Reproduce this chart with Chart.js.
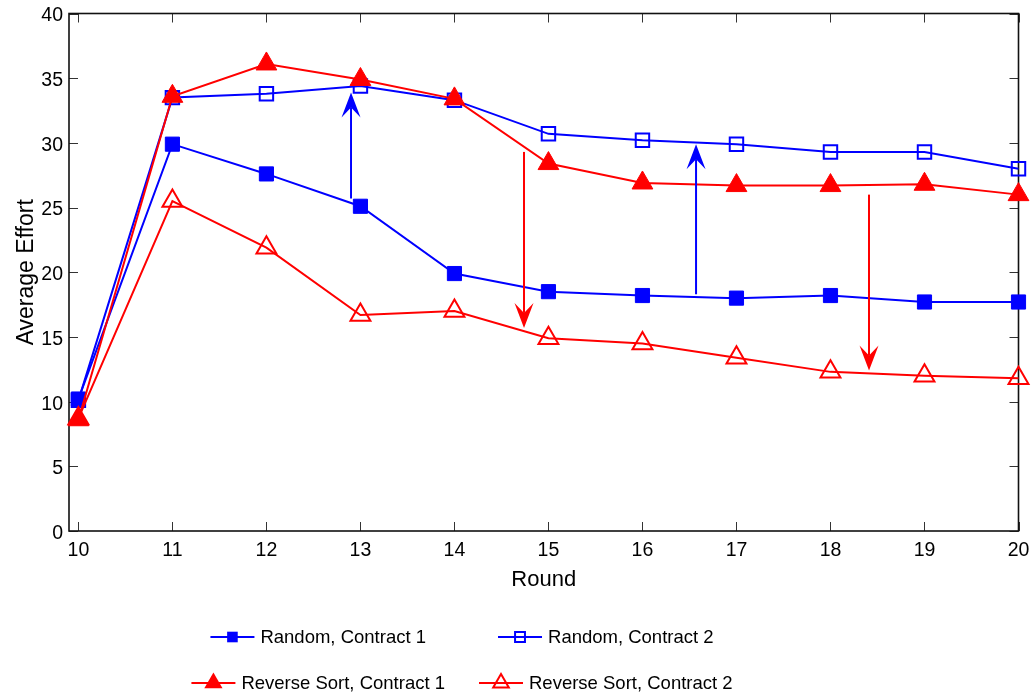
<!DOCTYPE html>
<html>
<head>
<meta charset="utf-8">
<script src="https://cdn.jsdelivr.net/npm/chart.js@4.4.1/dist/chart.umd.min.js"></script>
<style>
  html, body { margin: 0; padding: 0; background: #fff; }
</style>
</head>
<body>
<canvas id="effortChart" width="1032" height="694"></canvas>
<script>
// Average effort per round, four treatments
const rounds = [10, 11, 12, 13, 14, 15, 16, 17, 18, 19, 20];
const randomC1 = [10.2, 29.9, 27.6, 25.1, 19.9, 18.5, 18.2, 18.0, 18.2, 17.7, 17.7];
const randomC2 = [10.1, 33.5, 33.8, 34.4, 33.3, 30.7, 30.2, 29.9, 29.3, 29.3, 28.0];
const reverseC1 = [8.6, 33.6, 36.1, 34.9, 33.4, 28.4, 26.9, 26.7, 26.7, 26.8, 26.0];
const reverseC2 = [8.7, 25.5, 21.9, 16.7, 17.0, 14.9, 14.5, 13.4, 12.3, 12.0, 11.8];

const yTicks = [0, 5, 10, 15, 20, 25, 30, 35, 40];

// Annotation arrows (round position, start value, end value)
const arrowRound = [12.9, 14.74, 16.57, 18.41];
const arrowFrom = [25.7, 29.3, 18.3, 26.0];
const arrowTo = [33.9, 15.7, 29.9, 12.4];
const arrowColor = ['#0000ff', '#ff0000', '#0000ff', '#ff0000'];

const BLUE = '#0000ff';
const RED = '#ff0000';
const SANS = "'Liberation Sans', Arial, Helvetica, sans-serif";

function toPoints(values) {
    return rounds.map((r, i) => ({ x: r, y: values[i] }));
}

function series(label, values, color, style, filled, radius, order) {
    return {
        label: label,
        data: toPoints(values),
        borderColor: color,
        backgroundColor: color,
        borderWidth: 2,
        pointStyle: style,
        pointRadius: radius,
        pointHoverRadius: radius,
        pointBackgroundColor: filled ? color : 'rgba(255,255,255,0)',
        pointBorderColor: color,
        pointBorderWidth: filled ? 1 : 2,
        tension: 0,
        fill: false,
        clip: false,
        order: order
    };
}

// small marker painter for the legend
function drawMarker(ctx, style, filled, color, x, y, r) {
    ctx.save();
    ctx.beginPath();
    if (style === 'rect') {
        const s = r * Math.SQRT1_2;
        ctx.rect(x - s, y - s, 2 * s, 2 * s);
    } else {
        let a = 0;
        ctx.moveTo(x + Math.sin(a) * r, y - Math.cos(a) * r);
        a += 2 * Math.PI / 3;
        ctx.lineTo(x + Math.sin(a) * r, y - Math.cos(a) * r);
        a += 2 * Math.PI / 3;
        ctx.lineTo(x + Math.sin(a) * r, y - Math.cos(a) * r);
        ctx.closePath();
    }
    if (filled) {
        ctx.fillStyle = color;
        ctx.fill();
    } else {
        ctx.strokeStyle = color;
        ctx.lineWidth = 2;
        ctx.stroke();
    }
    ctx.restore();
}

// Box frame with inward ticks on all four sides
const framePlugin = {
    id: 'frame',
    beforeDatasetsDraw(chart) {
        const { ctx, chartArea: a, scales: { x, y } } = chart;
        ctx.save();
        ctx.strokeStyle = '#333';
        ctx.lineWidth = 1;
        ctx.beginPath();
        rounds.forEach(v => {
            const px = Math.round(x.getPixelForValue(v)) + 0.5;
            ctx.moveTo(px, a.bottom); ctx.lineTo(px, a.bottom - 9);
            ctx.moveTo(px, a.top); ctx.lineTo(px, a.top + 9);
        });
        yTicks.forEach(v => {
            const py = Math.round(y.getPixelForValue(v)) + 0.5;
            ctx.moveTo(a.left, py); ctx.lineTo(a.left + 9, py);
            ctx.moveTo(a.right, py); ctx.lineTo(a.right - 9, py);
        });
        ctx.stroke();
        ctx.strokeStyle = '#111';
        ctx.lineWidth = 1.6;
        ctx.strokeRect(a.left, a.top, a.right - a.left, a.bottom - a.top);
        ctx.restore();
    }
};

// Vertical arrows with barbed heads
const arrowPlugin = {
    id: 'arrows',
    afterDatasetsDraw(chart) {
        const { ctx, scales: { x, y } } = chart;
        ctx.save();
        arrowRound.forEach((r, i) => {
            const px = x.getPixelForValue(r);
            const y0 = y.getPixelForValue(arrowFrom[i]);
            const y1 = y.getPixelForValue(arrowTo[i]);
            const dir = y1 < y0 ? 1 : -1; // direction from tip back to tail
            const L = 25, W = 9.5, N = 15;
            ctx.strokeStyle = arrowColor[i];
            ctx.fillStyle = arrowColor[i];
            ctx.lineWidth = 2;
            ctx.beginPath();
            ctx.moveTo(px, y0);
            ctx.lineTo(px, y1 + dir * N);
            ctx.stroke();
            ctx.beginPath();
            ctx.moveTo(px, y1);
            ctx.lineTo(px - W, y1 + dir * L);
            ctx.lineTo(px, y1 + dir * N);
            ctx.lineTo(px + W, y1 + dir * L);
            ctx.closePath();
            ctx.fill();
        });
        ctx.restore();
    }
};

// Two-column legend below the axes
const legendPlugin = {
    id: 'bottomLegend',
    afterDraw(chart) {
        const ctx = chart.ctx;
        const entries = [
            { text: 'Random, Contract 1', color: BLUE, style: 'rect', filled: true, r: 7.5 },
            { text: 'Random, Contract 2', color: BLUE, style: 'rect', filled: false, r: 7 },
            { text: 'Reverse Sort, Contract 1', color: RED, style: 'triangle', filled: true, r: 10.5 },
            { text: 'Reverse Sort, Contract 2', color: RED, style: 'triangle', filled: false, r: 9 }
        ];
        const lineLen = 44, gap = 6, colGap = 34;
        const rowY = [637, 683];
        const centerX = 462;
        ctx.save();
        ctx.font = '18.5px ' + SANS;
        ctx.textBaseline = 'middle';
        ctx.textAlign = 'left';
        const widths = entries.map(e => lineLen + gap + ctx.measureText(e.text).width);
        const colOffset = Math.max(widths[0], widths[2]) + colGap;
        for (let row = 0; row < 2; row++) {
            const a = entries[row * 2], b = entries[row * 2 + 1];
            const total = colOffset + widths[row * 2 + 1];
            const startX = centerX - total / 2;
            [a, b].forEach((e, k) => {
                const x0 = startX + k * colOffset;
                const yy = rowY[row];
                ctx.strokeStyle = e.color;
                ctx.lineWidth = 2;
                ctx.beginPath();
                ctx.moveTo(x0, yy);
                ctx.lineTo(x0 + lineLen, yy);
                ctx.stroke();
                drawMarker(ctx, e.style, e.filled, e.color, x0 + lineLen / 2, yy, e.r);
                ctx.fillStyle = '#000';
                ctx.fillText(e.text, x0 + lineLen + gap, yy + 1);
            });
        }
        ctx.restore();
    }
};

const config = {
    type: 'line',
    data: {
        datasets: [
            series('Random, Contract 1', randomC1, BLUE, 'rect', true, 10, 3),
            series('Random, Contract 2', randomC2, BLUE, 'rect', false, 9.5, 2),
            series('Reverse Sort, Contract 1', reverseC1, RED, 'triangle', true, 12, 0),
            series('Reverse Sort, Contract 2', reverseC2, RED, 'triangle', false, 11.5, 1)
        ]
    },
    options: {
        responsive: false,
        animation: false,
        devicePixelRatio: 1,
        layout: {
            padding: { left: 0, right: 13, top: 12.5, bottom: 100 }
        },
        plugins: {
            legend: { display: false },
            tooltip: { enabled: false }
        },
        scales: {
            x: {
                type: 'linear',
                min: 9.9,
                max: 20,
                afterBuildTicks: s => { s.ticks = rounds.map(v => ({ value: v })); },
                afterFit: s => { s.height = 63; s.paddingLeft = 0; s.paddingRight = 0; },
                grid: { display: false, drawTicks: false },
                border: { display: false },
                ticks: {
                    autoSkip: false,
                    maxRotation: 0,
                    padding: 8,
                    color: '#000',
                    font: { family: SANS, size: 19.5 }
                },
                title: {
                    display: true,
                    text: 'Round',
                    color: '#000',
                    font: { family: SANS, size: 22 },
                    padding: { top: 0, bottom: 1 }
                }
            },
            y: {
                min: 0,
                max: 40,
                afterBuildTicks: s => { s.ticks = yTicks.map(v => ({ value: v })); },
                afterFit: s => { s.width = 69; s.paddingTop = 0; s.paddingBottom = 0; },
                grid: { display: false, drawTicks: false },
                border: { display: false },
                ticks: {
                    padding: 6,
                    labelOffset: 2.5,
                    color: '#000',
                    font: { family: SANS, size: 19.5 }
                },
                title: {
                    display: true,
                    text: 'Average Effort',
                    color: '#000',
                    font: { family: SANS, size: 23 },
                    padding: { top: 13, bottom: 0 }
                }
            }
        }
    },
    plugins: [framePlugin, arrowPlugin, legendPlugin]
};

const ctx = document.getElementById('effortChart').getContext('2d');
const effortChart = new Chart(ctx, config);
</script>
</body>
</html>
